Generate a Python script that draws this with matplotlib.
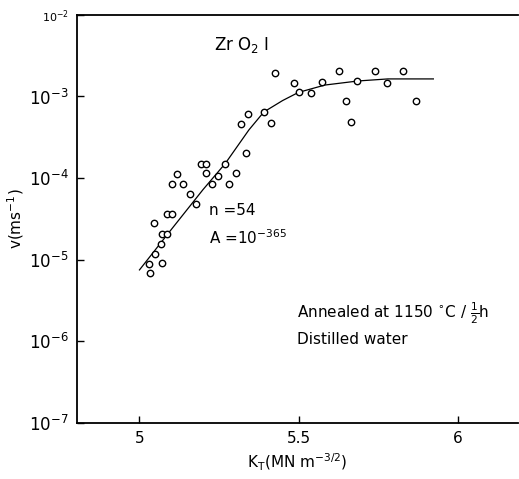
import numpy as np
import matplotlib
matplotlib.use('Agg')
import matplotlib.pyplot as plt

# measured points: stress intensity K_T and log10 of crack velocity
k_pts = [5.033, 5.031, 5.070, 5.050, 5.068, 5.070, 5.087, 5.047, 5.087, 5.102,
         5.158, 5.179, 5.101, 5.138, 5.229, 5.283, 5.118, 5.210, 5.304, 5.247,
         5.193, 5.210, 5.268, 5.335, 5.320, 5.341, 5.391, 5.413, 5.427, 5.487,
         5.503, 5.540, 5.575, 5.628, 5.649, 5.665, 5.685, 5.742, 5.778, 5.830,
         5.870]
logv_pts = [-5.165, -5.051, -5.035, -4.929, -4.810, -4.688, -4.688, -4.553, -4.442, -4.442,
            -4.194, -4.316, -4.075, -4.075, -4.075, -4.075, -3.949, -3.940, -3.933, -3.973,
            -3.830, -3.830, -3.830, -3.695, -3.336, -3.213, -3.192, -3.320, -2.714, -2.837,
            -2.947, -2.960, -2.825, -2.686, -3.054, -3.308, -2.809, -2.686, -2.830, -2.686,
            -3.054]

# fitted curve
k_fit = [5.00, 5.10, 5.20, 5.27, 5.344, 5.391, 5.45, 5.50, 5.583, 5.6875, 5.781, 5.924]
logv_fit = [-5.125, -4.63, -4.14, -3.82, -3.41, -3.19, -3.05, -2.95, -2.86, -2.81, -2.785, -2.785]

y_ticks = [1e-7, 1e-6, 1e-5, 1e-4, 1e-3, 1e-2]
y_ticklabels = ['$10^{-7}$', '$10^{-6}$', '$10^{-5}$', '$10^{-4}$', '$10^{-3}$', '$10^{-2}$']
x_ticks = [5, 5.5, 6]
x_ticklabels = ['5', '5.5', '6']

v_pts = 10 ** np.array(logv_pts)
v_fit = 10 ** np.array(logv_fit)

fig = plt.figure(figsize=(5.19, 4.79), dpi=100)
ax = fig.add_axes([0.148, 0.117, 0.85, 0.852])

ax.plot(k_fit, v_fit, color='black', linewidth=0.9)
ax.plot(k_pts, v_pts, linestyle='none', marker='o', markersize=4.6,
        markerfacecolor='white', markeredgecolor='black', markeredgewidth=1.0)

ax.set_yscale('log')
ax.set_xlim(4.803, 6.19)
ax.set_ylim(1e-7, 1e-2)
ax.set_yticks(y_ticks)
ax.set_yticklabels(y_ticklabels, fontsize=12)
ax.yaxis.set_minor_locator(matplotlib.ticker.NullLocator())
ax.set_xticks(x_ticks)
ax.set_xticklabels(x_ticklabels, fontsize=11)
ax.tick_params(direction='in', length=5, width=1.0, pad=6)

# top label is smaller in the original
top = ax.get_yticklabels()[-1]
top.set_fontsize(8)
top.set_fontstyle('italic')

for s in ['left', 'bottom', 'top']:
    ax.spines[s].set_linewidth(1.3)
ax.spines['right'].set_visible(False)

ax.set_xlabel(r'K$_\mathrm{T}$(MN m$^{-3/2}$)', fontsize=11, labelpad=4)
ax.set_ylabel(r'v(ms$^{-1}$)', fontsize=11, labelpad=2)

ax.text(0.31, 0.925, r'Zr O$_2$ I', transform=ax.transAxes, fontsize=12, va='center')
ax.text(0.30, 0.52, 'n =54', transform=ax.transAxes, fontsize=11, va='center')
ax.text(0.30, 0.455, r'A =10$^{-365}$', transform=ax.transAxes, fontsize=11, va='center')
ax.text(0.50, 0.27, r'Annealed at 1150 $^{\circ}$C / $\frac{1}{2}$h', transform=ax.transAxes,
        fontsize=11, va='center')
ax.text(0.50, 0.205, 'Distilled water', transform=ax.transAxes, fontsize=11, va='center')

fig.savefig('out.png', dpi=100)
